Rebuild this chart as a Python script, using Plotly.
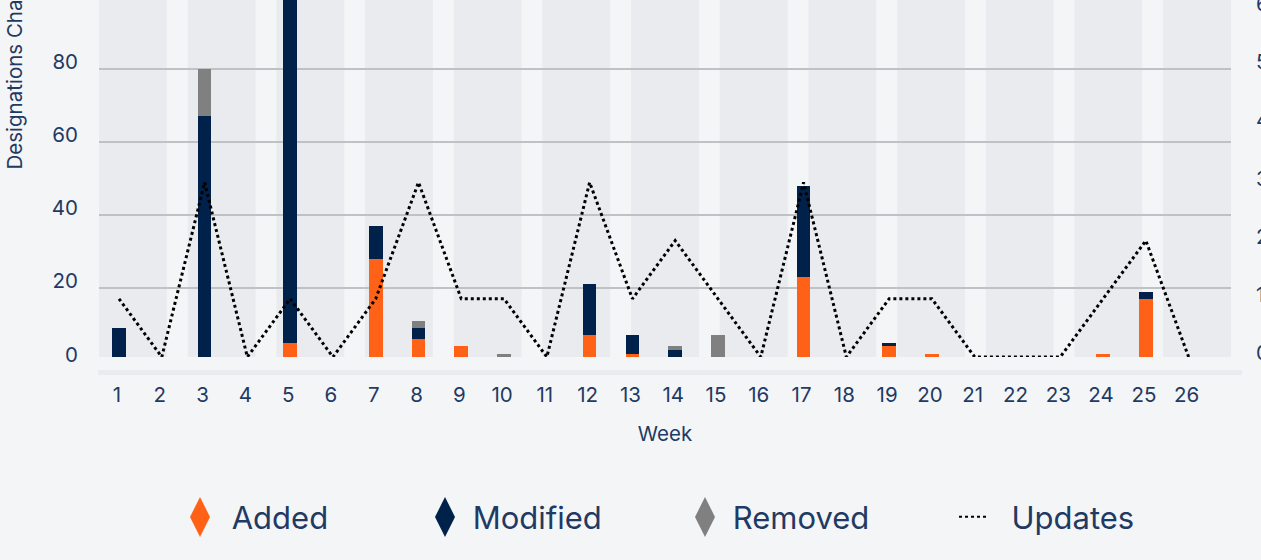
import plotly.graph_objects as go

# ---- data ----
weeks = list(range(1, 27))
week_labels = [str(w) for w in weeks]
added    = [0, 0, 0, 0, 5, 0, 28, 6, 4, 0, 0, 7, 2, 0, 0, 0, 23, 0, 4, 2, 0, 0, 0, 2, 17, 0]
modified = [9, 0, 67, 0, 105, 0, 9, 3, 0, 0, 0, 14, 5, 3, 0, 0, 25, 0, 1, 0, 0, 0, 0, 0, 2, 0]
removed  = [0, 0, 13, 0, 0, 0, 0, 2, 0, 2, 0, 0, 0, 1, 7, 0, 0, 0, 0, 0, 0, 0, 0, 0, 0, 0]
updates  = [1, 0, 3, 0, 1, 0, 1, 3, 1, 1, 0, 3, 1, 2, 1, 0, 3, 0, 1, 1, 0, 0, 0, 1, 2, 0]
left_ticks = [0, 20, 40, 60, 80]
right_ticks = [0, 1, 2, 3, 4, 5, 6]

C_ADD = "#ff6116"
C_MOD = "#00214a"
C_REM = "#808080"
TXT = "#1f3a63"
BG = "#f4f5f7"
BAND = "#eaebef"
FONT = "Inter"
FS = 20.5
LFS = 31

W, H = 1261, 560
ML, MR, MT, MB = 99, 30, 0, 203
PW, PH = W - ML - MR, H - MT - MB


def px_to_paper(x, y):
    return (x - ML) / PW, (H - MB - y) / PH


fig = go.Figure()

series = [("Added", added, C_ADD), ("Modified", modified, C_MOD), ("Removed", removed, C_REM)]
for name, vals, col in series:
    fig.add_trace(go.Bar(
        x=weeks, y=vals, name=name, marker=dict(color=col, line=dict(width=0)),
        width=0.32, showlegend=False, legendgroup=name, yaxis="y",
    ))

fig.add_trace(go.Scatter(
    x=weeks, y=updates, name="Updates", mode="lines", yaxis="y2",
    line=dict(color="black", width=3, dash="dot"), showlegend=False, legendgroup="Updates",
))

# legend entries
leg_w = {"Added": 196, "Modified": 215, "Removed": 225}
for name, vals, col in series:
    fig.add_trace(go.Scatter(
        x=[None], y=[None], mode="markers", name=" " + name, legendgroup=name,
        marker=dict(symbol="diamond-tall", size=16, color=col, line=dict(width=0)),
        legendwidth=leg_w[name],
    ))
fig.add_trace(go.Scatter(
    x=[None], y=[None], mode="lines", name="  Updates", legendgroup="Updates", yaxis="y2",
    line=dict(color="black", width=2, dash="dot"), legendwidth=150,
))

# larger diamond glyphs over the legend symbols
leg_centers = [(200, C_ADD), (445, C_MOD), (705, C_REM)]
for cx, col in leg_centers:
    pts = [px_to_paper(cx, 497), px_to_paper(cx + 10, 517), px_to_paper(cx, 537), px_to_paper(cx - 10, 517)]
    path = "M" + " L".join(f"{a:.5f},{b:.5f}" for a, b in pts) + " Z"
    fig.add_shape(type="path", xref="paper", yref="paper", path=path,
                  fillcolor=col, line=dict(width=0), layer="above")

# background bands
n_bands = 13
band_frac = 0.766
period = 1.0 / (n_bands - 1 + band_frac)
for i in range(n_bands):
    fig.add_shape(type="rect", xref="paper", yref="paper",
                  x0=i * period, x1=i * period + band_frac * period, y0=0, y1=1,
                  fillcolor=BAND, line=dict(width=0), layer="below")
# strip under plot
sx0, sy0 = px_to_paper(98, 375)
sx1, sy1 = px_to_paper(1242, 370)
fig.add_shape(type="rect", xref="paper", yref="paper", x0=sx0, x1=sx1,
              y0=sy0, y1=sy1, fillcolor="#e9ebee", line=dict(width=0), layer="below")

# y-axis title (cropped at top in the reference)
tx, ty = px_to_paper(14, 172)
fig.add_annotation(text="Designations Changed", textangle=-90, xref="paper", yref="paper",
                   x=tx, y=ty, xanchor="center", yanchor="bottom", showarrow=False,
                   font=dict(family=FONT, size=FS, color=TXT))

# zero label of left axis (its gridline sits just below the plot floor)
zx, zy = px_to_paper(0, 361)
fig.add_annotation(text=str(left_ticks[0]), xref="paper", yref="paper", x=0, y=zy,
                   xanchor="right", yanchor="middle", xshift=-19, yshift=7, showarrow=False,
                   font=dict(family=FONT, size=FS, color=TXT))

px_per_unit_left = 3.65
y_lo = 4 / px_per_unit_left
y_hi = y_lo + PH / px_per_unit_left
px_per_unit_right = 58.2

fig.update_layout(
    width=W, height=H,
    margin=dict(l=ML, r=MR, t=MT, b=MB),
    paper_bgcolor=BG, plot_bgcolor=BG,
    barmode="stack",
    font=dict(family=FONT, color=TXT, size=FS),
    xaxis=dict(
        range=[0.5326, 26.99], tickmode="array", tickvals=weeks, ticktext=week_labels,
        showgrid=False, zeroline=False, showline=False, ticks="", automargin=False,
        tickfont=dict(size=FS, color=TXT), ticklabelstandoff=23, ticklabelshift=-2,
        title=dict(text="Week", font=dict(size=FS, color=TXT), standoff=21),
    ),
    yaxis=dict(
        range=[y_lo, y_hi], tickmode="array", tickvals=left_ticks, automargin=False,
        showgrid=True, gridcolor="#bfc1c5", gridwidth=1.5, zeroline=False, ticks="",
        tickfont=dict(size=FS, color=TXT), ticklabelstandoff=20, ticklabelshift=-7,
        ticklabeloverflow="allow",
    ),
    yaxis2=dict(
        range=[0, PH / px_per_unit_right], overlaying="y", side="right", tickmode="array",
        tickvals=right_ticks, showgrid=False, zeroline=False, ticks="", automargin=False,
        tickfont=dict(size=FS, color=TXT), ticklabelstandoff=24, ticklabelshift=-4,
        ticklabeloverflow="allow",
    ),
    legend=dict(
        orientation="h", x=px_to_paper(183, 0)[0], xanchor="left", y=px_to_paper(0, 517)[1],
        yanchor="middle", font=dict(size=LFS, color=TXT, family=FONT), itemwidth=30,
        bgcolor="rgba(0,0,0,0)",
    ),
    hovermode=False,
)

fig.write_html(
    "out.html",
    config={"displayModeBar": False},
    post_script="document.body.style.margin='0';document.body.style.overflow='hidden';",
)
